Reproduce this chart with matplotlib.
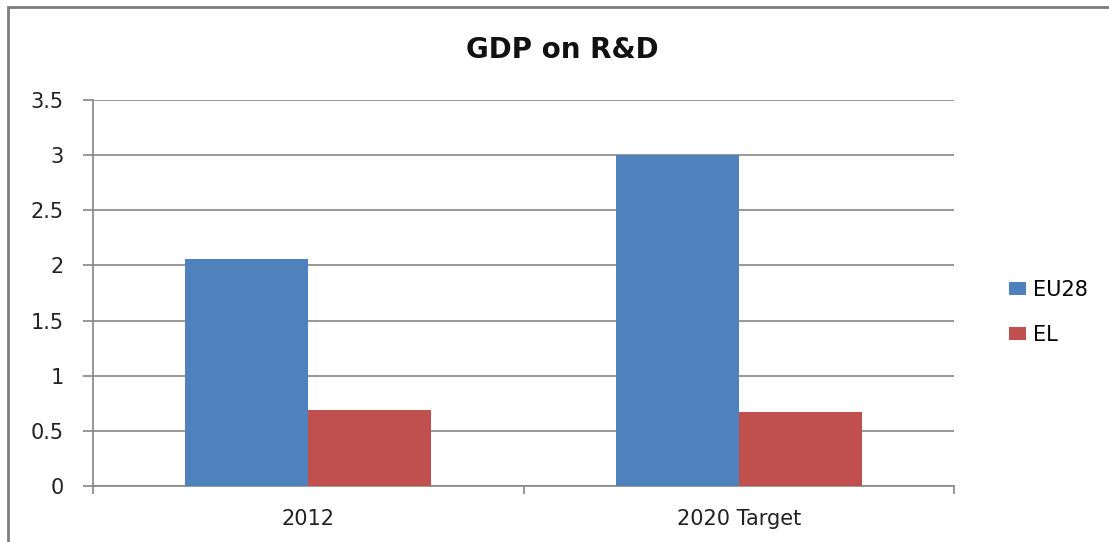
import matplotlib.pyplot as plt
from matplotlib.patches import Rectangle
import numpy as np

# share of GDP spent on R&D (%)
categories = ['2012', '2020 Target']
eu28 = [2.06, 3.0]
el = [0.69, 0.67]

plt.rcParams['font.family'] = 'DejaVu Sans'

fig = plt.figure(figsize=(11.09, 5.42), dpi=100)
ax = fig.add_axes([0.0839, 0.1033, 0.7764, 0.7122])

x = np.arange(len(categories))
width = 1 / 3.5
ax.bar(x - width / 2, eu28, width, color='#4F81BD', label='EU28', zorder=3)
ax.bar(x + width / 2, el, width, color='#C0504D', label='EL', zorder=3)

ax.set_xlim(-0.5, len(categories) - 0.5)
ax.set_ylim(0, 3.5)
ax.set_yticks(np.arange(0, 3.51, 0.5))
ax.set_yticklabels(['0', '0.5', '1', '1.5', '2', '2.5', '3', '3.5'])
ax.yaxis.grid(True, color='#868686', linewidth=1.2, zorder=0)

# category labels between the boundary ticks
ax.set_xticks(x)
ax.set_xticklabels(categories)
ax.tick_params(axis='x', length=0, pad=16.5, labelsize=15, labelcolor='#222222')
ax.set_xticks(np.arange(-0.5, len(categories), 1), minor=True)
ax.tick_params(axis='x', which='minor', length=6, color='#868686', width=1.2)
ax.tick_params(axis='y', length=7, color='#868686', width=1.2, pad=14,
               labelsize=15, labelcolor='#222222')

for side in ['top', 'right']:
    ax.spines[side].set_visible(False)
for side in ['left', 'bottom']:
    ax.spines[side].set_color('#868686')
    ax.spines[side].set_linewidth(1.2)

fig.text(0.507, 0.907, 'GDP on R&D', ha='center', va='center',
         fontsize=20, fontweight='bold', color='#111111')

ax.legend(loc='center left', bbox_to_anchor=(0.893, 0.424),
          bbox_transform=fig.transFigure, frameon=False, fontsize=15,
          handlelength=0.8, handleheight=0.6, handletextpad=0.35,
          labelspacing=1.2)

# chart border
fig.patches.append(Rectangle((8 / 1109, -0.05), 1.2, 1.05 - 7 / 542,
                             transform=fig.transFigure, fill=False,
                             edgecolor='#7F7F7F', linewidth=2))

fig.savefig('out.png', dpi=100)
